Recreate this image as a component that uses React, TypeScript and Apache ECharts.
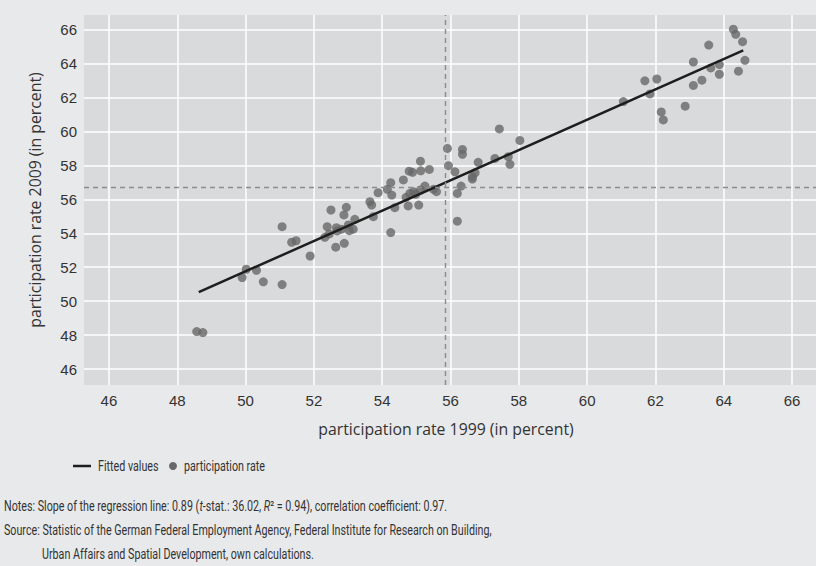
import React, { useEffect, useRef } from "react";
import * as echarts from "echarts";

// Participation rates by region, 1999 (x) vs 2009 (y), in percent
const rate1999 = [
  48.57, 48.75, 49.9, 50.02, 50.32, 50.52, 51.07, 51.07, 51.35, 51.48, 51.89,
  52.32, 52.39, 52.45, 52.5, 52.64, 52.66, 52.68, 52.81, 52.88, 52.89, 52.95,
  53.01, 53.04, 53.15, 53.2,
  53.64, 53.69, 53.74, 53.88, 54.15, 54.25, 54.28, 54.25, 54.37, 54.62, 54.7,
  54.76, 54.79, 54.81, 54.89, 54.91, 55.07, 55.12, 55.13, 55.12, 55.25, 55.38,
  55.5, 55.59, 54.98,
  55.91, 55.94, 56.13, 56.2, 56.2, 56.31, 56.35, 56.35, 56.64, 56.64, 56.72,
  56.81, 57.3, 57.43, 57.69, 57.74, 58.03,
  61.06, 61.69, 61.84, 62.04, 62.17, 62.23, 62.87, 63.11, 63.11, 63.36, 63.56,
  63.62, 63.87, 63.87, 64.28, 64.35, 64.43, 64.55, 64.62,
];
const rate2009 = [
  48.21, 48.15, 51.39, 51.88, 51.82, 51.14, 50.98, 54.39, 53.47, 53.56, 52.66,
  53.76, 54.39, 53.96, 55.37, 53.18, 54.33, 54.14, 54.24, 55.08, 53.41, 55.53,
  54.49, 54.15, 54.24, 54.82,
  55.86, 55.66, 54.98, 56.39, 56.59, 56.98, 56.25, 54.04, 55.51, 57.14, 56.12,
  55.61, 57.66, 56.35, 57.59, 56.45, 55.66, 58.25, 57.68, 56.55, 56.78, 57.76,
  56.59, 56.45, 56.3,
  59.0, 57.98, 57.62, 56.35, 54.71, 56.78, 58.94, 58.65, 57.33, 57.19, 57.56,
  58.18, 58.41, 60.15, 58.51, 58.06, 59.47,
  61.76, 62.98, 62.21, 63.09, 61.15, 60.68, 61.49, 64.09, 62.71, 63.02, 65.09,
  63.74, 63.94, 63.37, 66.02, 65.72, 63.55, 65.29, 64.19,
];

// Regression line end points
const fitX = [48.63, 64.57];
const fitY = [50.53, 64.78];

// Means of both years (dashed reference lines)
const mean1999 = 55.84;
const mean2009 = 56.74;

const xRange = [45.27, 66.7];
const yRange = [45.06, 66.86];

const seriesNames = ["Fitted values", "participation rate"];
const noteLines = [
  "Notes: Slope of the regression line: 0.89 ({i|t}-stat.: 36.02, {i|R}² = 0.94), correlation coefficient: 0.97.",
  "Source: Statistic of the German Federal Employment Agency, Federal Institute for Research on Building,",
  "Urban Affairs and Spatial Development, own calculations.",
];

const axisFont = "'Open Sans', 'Liberation Sans', sans-serif";
const tickFont = "'Liberation Sans', Arial, sans-serif";
const noteFont = "Roboto, 'Liberation Sans', sans-serif";
const squeeze = 0.765; // condensed look for legend and notes

const dotColor = "#686868";
const lineColor = "#1e1e1e";

export default function App() {
  const ref = useRef<HTMLDivElement>(null);

  useEffect(() => {
    if (!ref.current) return;
    const chart = echarts.init(ref.current, undefined, { renderer: "svg" });

    const points = rate1999.map((x, i) => [x, rate2009[i]]);
    const fitted = fitX.map((x, i) => [x, fitY[i]]);

    const noteText = (text: string, x: number, y: number) => ({
      type: "text",
      x,
      y,
      scaleX: squeeze,
      style: {
        text,
        font: `14px ${noteFont}`,
        fill: "#333",
        verticalAlign: "middle",
        rich: {
          i: {
            fontStyle: "italic",
            fontFamily: noteFont,
            fontSize: 14,
            fill: "#333",
            verticalAlign: "middle",
          },
        },
      },
    });

    const option: any = {
      animation: false,
      backgroundColor: "#e8e9ea",
      grid: {
        left: 84,
        top: 15,
        right: 0,
        bottom: 181,
        show: true,
        backgroundColor: "#d9dadc",
        borderWidth: 0,
      },
      legend: { show: false },
      xAxis: {
        type: "value",
        min: xRange[0],
        max: xRange[1],
        splitNumber: 10,
        minInterval: 2,
        maxInterval: 2,
        name: "participation rate 1999 (in percent)",
        nameLocation: "middle",
        nameGap: 36,
        nameTextStyle: {
          fontFamily: axisFont,
          fontSize: 15.8,
          color: "#333",
          padding: [0, 8, 0, 0],
        },
        axisLine: { show: false },
        axisTick: { show: false },
        axisLabel: {
          showMinLabel: false,
          showMaxLabel: false,
          margin: 8,
          fontFamily: tickFont,
          fontSize: 15,
          color: "#333",
        },
        splitLine: {
          show: true,
          showMinLine: false,
          showMaxLine: false,
          lineStyle: { color: "#ffffff", width: 1.5 },
        },
      },
      yAxis: {
        type: "value",
        min: yRange[0],
        max: yRange[1],
        splitNumber: 10,
        minInterval: 2,
        maxInterval: 2,
        name: "participation rate 2009 (in percent)",
        nameLocation: "middle",
        nameGap: 41,
        nameRotate: 90,
        nameTextStyle: { fontFamily: axisFont, fontSize: 15.8, color: "#333" },
        axisLine: { show: false },
        axisTick: { show: false },
        axisLabel: {
          showMinLabel: false,
          showMaxLabel: false,
          margin: 7,
          fontFamily: tickFont,
          fontSize: 15,
          color: "#333",
        },
        splitLine: {
          show: true,
          showMinLine: false,
          showMaxLine: false,
          lineStyle: { color: "#ffffff", width: 1.5 },
        },
      },
      series: [
        {
          name: seriesNames[1],
          type: "scatter",
          data: points,
          symbol: "circle",
          symbolSize: 9,
          itemStyle: { color: dotColor },
          z: 3,
          markLine: {
            silent: true,
            symbol: "none",
            label: { show: false },
            lineStyle: { color: "#8c8c8c", type: [5, 4], width: 1.4 },
            data: [{ xAxis: mean1999 }, { yAxis: mean2009 }],
          },
        },
        {
          name: seriesNames[0],
          type: "line",
          data: fitted,
          symbol: "none",
          lineStyle: { color: lineColor, width: 2.5 },
          itemStyle: { color: lineColor },
          z: 4,
        },
      ],
      graphic: [
        // legend row
        {
          type: "line",
          shape: { x1: 73, y1: 466, x2: 91, y2: 466 },
          style: { stroke: lineColor, lineWidth: 2.5 },
        },
        noteText(seriesNames[0], 98, 466),
        {
          type: "circle",
          shape: { cx: 173, cy: 466, r: 4 },
          style: { fill: dotColor },
        },
        noteText(seriesNames[1], 184, 466),
        // notes and source
        noteText(noteLines[0], 4, 506),
        noteText(noteLines[1], 4, 529.5),
        noteText(noteLines[2], 42, 553.5),
      ],
    };

    chart.setOption(option);
    return () => chart.dispose();
  }, []);

  return (
    <div
      ref={ref}
      style={{ position: "fixed", left: 0, top: 0, width: 816, height: 566 }}
    />
  );
}
